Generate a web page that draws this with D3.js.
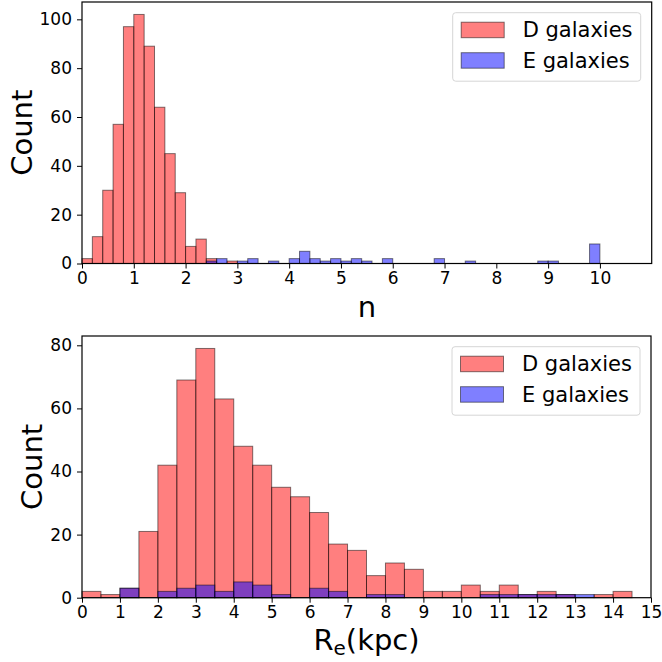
<!DOCTYPE html>
<html>
<head>
<meta charset="utf-8">
<script src="https://cdn.jsdelivr.net/npm/d3@7"></script>
<style>
  body { margin: 0; background: #fff; }
  svg { display: block; font-family: "DejaVu Sans", sans-serif; }
</style>
</head>
<body>
<svg width="662" height="662"></svg>
<script>
// top panel: Sersic index n, bins of 0.2 starting at 0
var nBinWidth = 0.2
var nD = [2, 11, 30, 57, 97, 102, 89, 64, 45, 29, 7, 10, 2, 0, 1]
var nE = [0, 0, 0, 0, 0, 0, 0, 0, 0, 0, 0, 0, 1, 2, 0, 1, 2, 0, 1, 0,
  2, 5, 2, 1, 2, 1, 2, 1, 0, 2, 0, 0, 0, 0, 2, 0, 0, 1, 0, 0,
  0, 0, 0, 0, 1, 1, 0, 0, 0, 8]
var nTicks = [0, 1, 2, 3, 4, 5, 6, 7, 8, 9, 10]
var nYTicks = [0, 20, 40, 60, 80, 100]

// bottom panel: effective radius in kpc, bins of 0.5 starting at 0
var reBinWidth = 0.5
var reD = [2, 1, 3, 21, 42, 69, 79, 63, 48, 42, 35, 32, 27, 17, 15, 7, 11, 9, 2, 2,
  4, 2, 4, 1, 2, 1, 0, 1, 2, 0]
var reE = [0, 0, 3, 0, 2, 3, 4, 2, 5, 4, 1, 0, 3, 2, 0, 1, 1, 0, 0, 0,
  0, 1, 1, 1, 1, 1, 1, 0, 0, 0]
var reTicks = [0, 1, 2, 3, 4, 5, 6, 7, 8, 9, 10, 11, 12, 13, 14, 15]
var reYTicks = [0, 20, 40, 60, 80]

var legendNames = ['D galaxies', 'E galaxies']
var colors = ['#ff0000', '#0000ff']

var svg = d3.select('svg')

function panel (opt) {
  var g = svg.append('g')
  var x = d3.scaleLinear().domain(opt.xDomain).range([opt.left, opt.right])
  var y = d3.scaleLinear().domain(opt.yDomain).range([opt.bottom, opt.top])

  // histograms, D first then E over it
  ;[opt.d, opt.e].forEach(function (counts, s) {
    g.append('g').selectAll('rect')
      .data(counts.map(function (c, i) { return { i: i, c: c } })
        .filter(function (d) { return d.c > 0 }))
      .enter()
      .append('rect')
      .attr('x', function (d) { return x(d.i * opt.bw) })
      .attr('width', function (d) { return x((d.i + 1) * opt.bw) - x(d.i * opt.bw) })
      .attr('y', function (d) { return y(d.c) })
      .attr('height', function (d) { return y(0) - y(d.c) })
      .style('fill', colors[s])
      .style('fill-opacity', 0.5)
      .style('stroke', '#000')
      .style('stroke-opacity', 0.5)
      .style('stroke-width', 1)
  })

  var xAxis = g.append('g')
    .attr('transform', 'translate(0,' + opt.bottom + ')')
    .call(d3.axisBottom(x).tickValues(opt.xTicks).tickSize(5).tickPadding(3)
      .tickFormat(d3.format('d')))
  var yAxis = g.append('g')
    .attr('transform', 'translate(' + opt.left + ',0)')
    .call(d3.axisLeft(y).tickValues(opt.yTicks).tickSize(5).tickPadding(5)
      .tickFormat(d3.format('d')))
  ;[xAxis, yAxis].forEach(function (a) {
    a.select('.domain').remove()
    a.selectAll('line').style('stroke', '#000').style('stroke-width', 1)
    a.selectAll('text').style('font-size', '17px').style('fill', '#000')
      .style('font-family', '"DejaVu Sans", sans-serif')
  })

  g.append('rect')
    .attr('x', opt.left).attr('y', opt.top)
    .attr('width', opt.right - opt.left).attr('height', opt.bottom - opt.top)
    .style('fill', 'none').style('stroke', '#000').style('stroke-width', 1.2)

  // legend
  var lx = opt.right - 199
  var ly = opt.top + 10.7
  g.append('rect')
    .attr('x', lx).attr('y', ly).attr('width', 188).attr('height', 68.5)
    .attr('rx', 3)
    .style('fill', '#fff').style('fill-opacity', 0.8)
    .style('stroke', '#d6d6d6').style('stroke-width', 1)
  legendNames.forEach(function (name, i) {
    g.append('rect')
      .attr('x', lx + 8.5).attr('y', ly + 9.5 + i * 30.5)
      .attr('width', 43).attr('height', 15.5)
      .style('fill', colors[i]).style('fill-opacity', 0.5)
      .style('stroke', '#000').style('stroke-opacity', 0.5)
    g.append('text')
      .attr('x', lx + 70).attr('y', ly + 24.5 + i * 30.5)
      .style('font-size', '21px')
      .text(name)
  })

  var cx = (opt.left + opt.right) / 2
  var xl = g.append('text')
    .attr('x', cx).attr('y', opt.xLabelY)
    .attr('text-anchor', 'middle')
    .style('font-size', '29px')
  if (opt.xLabelSub) {
    xl.append('tspan').text(opt.xLabel)
    xl.append('tspan').attr('dy', 5).style('font-size', '20px').text(opt.xLabelSub)
    xl.append('tspan').attr('dy', -5).text(opt.xLabelRest)
  } else {
    xl.text(opt.xLabel)
  }

  g.append('text')
    .attr('transform', 'translate(' + opt.yLabelX + ',' + ((opt.top + opt.bottom) / 2) + ') rotate(-90)')
    .attr('text-anchor', 'middle')
    .style('font-size', '29px')
    .text('Count')
}

panel({
  left: 82, right: 651.7, top: 2, bottom: 263.5,
  xDomain: [0, 11], yDomain: [0, 107.1],
  bw: nBinWidth, d: nD, e: nE,
  xTicks: nTicks, yTicks: nYTicks,
  xLabel: 'n', xLabelY: 316.5, yLabelX: 31.5
})

panel({
  left: 82, right: 651, top: 336, bottom: 597.7,
  xDomain: [0, 15], yDomain: [0, 82.95],
  bw: reBinWidth, d: reD, e: reE,
  xTicks: reTicks, yTicks: reYTicks,
  xLabel: 'R', xLabelSub: 'e', xLabelRest: '(kpc)', xLabelY: 649.5, yLabelX: 41.5
})
</script>
</body>
</html>
